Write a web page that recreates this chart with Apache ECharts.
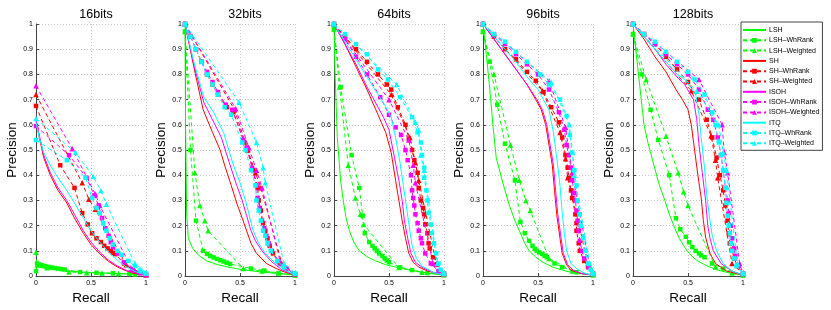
<!DOCTYPE html>
<html><head><meta charset="utf-8">
<script src="https://cdn.jsdelivr.net/npm/echarts@6/dist/echarts.min.js"></script>
<style>html,body{margin:0;padding:0;background:#fff}#c{width:831px;height:310px}</style>
</head><body><div id="c"></div>
<script>
// ---- data: [recall, precision] ----
const b16_LSH = [[0,0.04],[0.02,0.036],[0.1,0.03],[0.2,0.025],[0.3,0.02],[0.4,0.017],[0.5,0.014],[0.6,0.012],[0.7,0.011],[0.8,0.009],[0.9,0.008],[1,0.006]];
const b16_LSH_R = [[0,0.02],[0.01,0.05],[0.03,0.046],[0.05,0.043],[0.08,0.04],[0.11,0.037],[0.14,0.034],[0.17,0.032],[0.2,0.03],[0.23,0.028],[0.26,0.026],[0.4,0.016],[0.55,0.013],[0.7,0.011],[0.85,0.009],[1,0.006]];
const b16_LSH_W = [[0,0.095],[0.01,0.045],[0.1,0.033],[0.3,0.016],[0.46,0.013],[0.6,0.012],[0.75,0.01],[0.9,0.008],[1,0.006]];
const b16_SH = [[0,0.62],[0.03,0.55],[0.07,0.47],[0.13,0.4],[0.2,0.34],[0.28,0.29],[0.35,0.23],[0.43,0.17],[0.5,0.125],[0.58,0.088],[0.66,0.058],[0.74,0.036],[0.82,0.021],[0.9,0.011],[1,0.004]];
const b16_SH_R = [[0,0.675],[0.22,0.44],[0.35,0.35],[0.42,0.25],[0.47,0.205],[0.51,0.17],[0.55,0.15],[0.59,0.135],[0.62,0.12],[0.65,0.11],[0.68,0.1],[0.7,0.092],[0.72,0.087],[0.8,0.05],[0.88,0.025],[0.95,0.012],[1,0.004]];
const b16_SH_W = [[0,0.72],[0.42,0.37],[0.48,0.305],[0.54,0.265],[0.82,0.045],[0.9,0.02],[1,0.005]];
const b16_ISOH = [[0,0.62],[0.03,0.56],[0.07,0.48],[0.13,0.41],[0.2,0.35],[0.28,0.3],[0.35,0.245],[0.43,0.18],[0.5,0.135],[0.58,0.095],[0.66,0.063],[0.74,0.04],[0.82,0.023],[0.9,0.012],[1,0.004]];
const b16_ISOH_R = [[0,0.595],[0.3,0.48],[0.46,0.39],[0.53,0.32],[0.57,0.28],[0.6,0.23],[0.63,0.19],[0.66,0.16],[0.68,0.135],[0.7,0.115],[0.74,0.09],[0.8,0.055],[0.88,0.027],[0.95,0.012],[1,0.005]];
const b16_ISOH_W = [[0,0.755],[0.33,0.505],[0.54,0.325],[0.58,0.28],[0.87,0.03],[1,0.006]];
const b16_ITQ = [[0,0.61],[0.03,0.55],[0.07,0.49],[0.13,0.44],[0.2,0.39],[0.28,0.34],[0.35,0.29],[0.43,0.23],[0.5,0.18],[0.58,0.135],[0.66,0.095],[0.74,0.062],[0.82,0.037],[0.9,0.018],[1,0.005]];
const b16_ITQ_R = [[0,0.54],[0.28,0.46],[0.45,0.39],[0.51,0.31],[0.55,0.27],[0.58,0.25],[0.61,0.21],[0.64,0.18],[0.67,0.15],[0.7,0.125],[0.74,0.1],[0.78,0.085],[0.84,0.06],[0.9,0.04],[0.95,0.022],[1,0.01]];
const b16_ITQ_W = [[0,0.625],[0.36,0.49],[0.52,0.395],[0.59,0.34],[0.64,0.285],[0.9,0.05],[1,0.015]];

const b32_LSH = [[0,1],[0.005,0.6],[0.015,0.25],[0.03,0.15],[0.07,0.11],[0.13,0.08],[0.2,0.06],[0.3,0.045],[0.4,0.035],[0.5,0.027],[0.6,0.021],[0.7,0.016],[0.8,0.012],[0.9,0.008],[1,0.004]];
const b32_LSH_R = [[0,0.97],[0.05,0.5],[0.1,0.22],[0.165,0.1],[0.2,0.088],[0.23,0.08],[0.26,0.074],[0.29,0.068],[0.32,0.063],[0.35,0.058],[0.38,0.053],[0.41,0.048],[0.6,0.03],[0.72,0.022],[0.85,0.012],[1,0.004]];
const b32_LSH_W = [[0,0.97],[0.09,0.41],[0.135,0.28],[0.18,0.22],[0.21,0.18],[0.53,0.03],[0.7,0.02],[0.85,0.012],[1,0.004]];
const b32_SH = [[0,1],[0.08,0.83],[0.165,0.66],[0.25,0.57],[0.32,0.5],[0.36,0.44],[0.42,0.36],[0.47,0.29],[0.52,0.23],[0.56,0.18],[0.6,0.13],[0.65,0.09],[0.74,0.05],[0.83,0.03],[0.9,0.017],[1,0.004]];
const b32_SH_R = [[0,1],[0.05,0.95],[0.1,0.9],[0.15,0.85],[0.2,0.8],[0.25,0.76],[0.3,0.72],[0.38,0.67],[0.44,0.65],[0.54,0.53],[0.57,0.5],[0.62,0.42],[0.66,0.35],[0.67,0.3],[0.69,0.26],[0.71,0.21],[0.73,0.18],[0.75,0.15],[0.77,0.12],[0.8,0.09],[0.86,0.05],[0.92,0.03],[1,0.008]];
const b32_SH_W = [[0,1],[0.45,0.66],[0.57,0.5],[0.64,0.41],[0.69,0.35],[0.88,0.05],[1,0.01]];
const b32_ISOH = [[0,1],[0.08,0.84],[0.17,0.69],[0.25,0.62],[0.33,0.55],[0.41,0.44],[0.47,0.36],[0.52,0.3],[0.56,0.24],[0.6,0.18],[0.64,0.14],[0.7,0.1],[0.78,0.06],[0.88,0.025],[1,0.005]];
const b32_ISOH_R = [[0,1],[0.05,0.95],[0.1,0.9],[0.15,0.85],[0.2,0.81],[0.25,0.77],[0.3,0.73],[0.37,0.68],[0.43,0.66],[0.53,0.54],[0.56,0.51],[0.61,0.43],[0.65,0.36],[0.66,0.31],[0.68,0.27],[0.7,0.22],[0.72,0.19],[0.74,0.16],[0.76,0.13],[0.79,0.1],[0.85,0.06],[0.92,0.03],[1,0.008]];
const b32_ISOH_W = [[0,1],[0.46,0.665],[0.58,0.51],[0.65,0.42],[0.7,0.35],[0.87,0.05],[1,0.01]];
const b32_ITQ = [[0,1],[0.08,0.85],[0.17,0.71],[0.26,0.65],[0.35,0.57],[0.44,0.44],[0.5,0.37],[0.55,0.3],[0.59,0.23],[0.62,0.18],[0.67,0.13],[0.73,0.09],[0.8,0.06],[0.9,0.025],[1,0.005]];
const b32_ITQ_R = [[0,1],[0.05,0.95],[0.1,0.9],[0.15,0.85],[0.2,0.8],[0.25,0.76],[0.3,0.72],[0.36,0.67],[0.42,0.64],[0.52,0.53],[0.55,0.5],[0.6,0.42],[0.64,0.36],[0.65,0.3],[0.67,0.26],[0.69,0.22],[0.71,0.18],[0.73,0.16],[0.75,0.13],[0.78,0.1],[0.84,0.06],[0.9,0.035],[1,0.01]];
const b32_ITQ_W = [[0,1],[0.49,0.69],[0.65,0.53],[0.71,0.43],[0.73,0.37],[0.9,0.05],[1,0.012]];

const b64_LSH = [[0,1],[0.01,0.8],[0.03,0.55],[0.06,0.38],[0.084,0.3],[0.11,0.23],[0.14,0.18],[0.18,0.135],[0.23,0.1],[0.3,0.077],[0.38,0.06],[0.47,0.045],[0.56,0.036],[0.66,0.026],[0.77,0.017],[0.88,0.01],[1,0.004]];
const b64_LSH_R = [[0,0.98],[0.06,0.75],[0.16,0.48],[0.23,0.35],[0.26,0.24],[0.28,0.17],[0.32,0.135],[0.35,0.12],[0.37,0.11],[0.39,0.1],[0.41,0.09],[0.44,0.08],[0.46,0.07],[0.48,0.062],[0.5,0.055],[0.6,0.035],[0.71,0.024],[0.85,0.012],[1,0.005]];
const b64_LSH_W = [[0,0.98],[0.05,0.75],[0.13,0.44],[0.195,0.31],[0.24,0.245],[0.27,0.205],[0.59,0.034],[0.8,0.015],[1,0.005]];
const b64_SH = [[0,1],[0.1,0.92],[0.2,0.83],[0.3,0.74],[0.38,0.66],[0.43,0.61],[0.47,0.57],[0.52,0.49],[0.56,0.38],[0.59,0.3],[0.62,0.22],[0.65,0.15],[0.68,0.09],[0.72,0.055],[0.77,0.036],[0.85,0.02],[1,0.004]];
const b64_SH_R = [[0,1],[0.1,0.95],[0.2,0.9],[0.3,0.85],[0.4,0.8],[0.48,0.76],[0.52,0.74],[0.58,0.67],[0.65,0.6],[0.68,0.545],[0.71,0.5],[0.73,0.46],[0.76,0.41],[0.77,0.35],[0.79,0.3],[0.81,0.27],[0.82,0.245],[0.83,0.205],[0.85,0.17],[0.86,0.13],[0.87,0.11],[0.9,0.075],[0.93,0.045],[1,0.01]];
const b64_SH_W = [[0,1],[0.52,0.72],[0.69,0.55],[0.74,0.45],[0.77,0.38],[0.93,0.05],[1,0.01]];
const b64_ISOH = [[0,1],[0.1,0.92],[0.2,0.84],[0.3,0.75],[0.4,0.67],[0.45,0.63],[0.5,0.58],[0.55,0.47],[0.59,0.38],[0.62,0.3],[0.64,0.22],[0.67,0.15],[0.7,0.09],[0.74,0.055],[0.8,0.035],[0.88,0.018],[1,0.004]];
const b64_ISOH_R = [[0,1],[0.1,0.94],[0.2,0.87],[0.3,0.8],[0.42,0.71],[0.5,0.64],[0.56,0.59],[0.61,0.56],[0.65,0.5],[0.67,0.46],[0.7,0.4],[0.71,0.34],[0.72,0.31],[0.73,0.28],[0.74,0.245],[0.76,0.21],[0.77,0.18],[0.79,0.15],[0.8,0.13],[0.83,0.09],[0.88,0.05],[0.95,0.02],[1,0.008]];
const b64_ISOH_W = [[0,1],[0.5,0.7],[0.68,0.54],[0.72,0.44],[0.74,0.37],[0.9,0.05],[1,0.01]];
const b64_ITQ = [[0,1],[0.1,0.93],[0.2,0.86],[0.3,0.79],[0.4,0.72],[0.46,0.68],[0.52,0.63],[0.56,0.55],[0.6,0.45],[0.63,0.36],[0.66,0.27],[0.69,0.18],[0.71,0.12],[0.75,0.07],[0.8,0.04],[0.9,0.015],[1,0.004]];
const b64_ITQ_R = [[0,1],[0.1,0.96],[0.2,0.92],[0.3,0.88],[0.4,0.82],[0.49,0.78],[0.6,0.71],[0.71,0.63],[0.76,0.57],[0.79,0.53],[0.8,0.48],[0.82,0.43],[0.82,0.39],[0.84,0.34],[0.85,0.3],[0.86,0.25],[0.88,0.205],[0.89,0.17],[0.91,0.13],[0.93,0.09],[0.95,0.05],[0.97,0.025],[1,0.01]];
const b64_ITQ_W = [[0,1],[0.57,0.76],[0.74,0.61],[0.77,0.58],[0.79,0.48],[0.82,0.42],[0.94,0.05],[1,0.01]];

const b96_LSH = [[0,1],[0.03,0.88],[0.06,0.75],[0.09,0.6],[0.12,0.47],[0.18,0.37],[0.24,0.28],[0.29,0.22],[0.33,0.18],[0.38,0.13],[0.42,0.1],[0.48,0.075],[0.54,0.056],[0.63,0.036],[0.75,0.02],[0.87,0.01],[1,0.004]];
const b96_LSH_R = [[0,0.97],[0.06,0.85],[0.13,0.68],[0.2,0.525],[0.29,0.38],[0.34,0.215],[0.38,0.17],[0.42,0.14],[0.45,0.12],[0.47,0.108],[0.49,0.1],[0.51,0.094],[0.54,0.088],[0.56,0.08],[0.58,0.075],[0.65,0.05],[0.72,0.036],[0.85,0.015],[1,0.004]];
const b96_LSH_W = [[0,0.97],[0.1,0.8],[0.25,0.52],[0.33,0.38],[0.39,0.3],[0.43,0.26],[0.6,0.07],[0.81,0.02],[1,0.005]];
const b96_SH = [[0,1],[0.1,0.94],[0.2,0.88],[0.3,0.82],[0.4,0.76],[0.48,0.7],[0.53,0.66],[0.57,0.6],[0.6,0.52],[0.63,0.44],[0.65,0.34],[0.67,0.245],[0.7,0.15],[0.72,0.09],[0.76,0.045],[0.8,0.023],[0.9,0.01],[1,0.004]];
const b96_SH_R = [[0,1],[0.1,0.95],[0.2,0.9],[0.3,0.86],[0.4,0.81],[0.48,0.775],[0.55,0.73],[0.62,0.67],[0.69,0.61],[0.72,0.55],[0.75,0.48],[0.77,0.43],[0.78,0.39],[0.8,0.34],[0.81,0.31],[0.84,0.245],[0.85,0.21],[0.85,0.18],[0.87,0.13],[0.88,0.1],[0.92,0.06],[0.955,0.036],[1,0.01]];
const b96_SH_W = [[0,1],[0.54,0.735],[0.7,0.57],[0.75,0.465],[0.77,0.39],[0.955,0.05],[1,0.01]];
const b96_ISOH = [[0,1],[0.1,0.94],[0.2,0.88],[0.3,0.82],[0.4,0.76],[0.49,0.7],[0.54,0.66],[0.58,0.6],[0.61,0.52],[0.64,0.44],[0.66,0.34],[0.68,0.245],[0.71,0.15],[0.73,0.09],[0.77,0.045],[0.82,0.023],[0.9,0.01],[1,0.004]];
const b96_ISOH_R = [[0,1],[0.1,0.96],[0.2,0.92],[0.3,0.88],[0.4,0.84],[0.5,0.8],[0.6,0.74],[0.69,0.65],[0.74,0.58],[0.76,0.52],[0.78,0.48],[0.8,0.43],[0.81,0.38],[0.83,0.33],[0.84,0.3],[0.85,0.26],[0.86,0.22],[0.87,0.18],[0.88,0.14],[0.9,0.1],[0.92,0.07],[0.96,0.035],[1,0.01]];
const b96_ISOH_W = [[0,1],[0.6,0.775],[0.75,0.59],[0.81,0.41],[0.97,0.04],[1,0.01]];
const b96_ITQ = [[0,1],[0.1,0.95],[0.2,0.9],[0.3,0.85],[0.4,0.79],[0.5,0.74],[0.6,0.66],[0.64,0.57],[0.67,0.47],[0.7,0.36],[0.72,0.25],[0.74,0.17],[0.76,0.1],[0.8,0.05],[0.85,0.03],[0.92,0.012],[1,0.004]];
const b96_ITQ_R = [[0,1],[0.1,0.96],[0.2,0.93],[0.3,0.89],[0.4,0.85],[0.52,0.8],[0.6,0.76],[0.7,0.7],[0.76,0.635],[0.79,0.56],[0.81,0.49],[0.83,0.42],[0.85,0.36],[0.86,0.3],[0.88,0.245],[0.89,0.2],[0.91,0.15],[0.93,0.1],[0.955,0.05],[0.98,0.025],[1,0.01]];
const b96_ITQ_W = [[0,1],[0.62,0.77],[0.785,0.6],[0.815,0.49],[0.83,0.4],[0.97,0.05],[1,0.01]];

const b128_LSH = [[0,1],[0.03,0.88],[0.07,0.72],[0.1,0.6],[0.135,0.53],[0.19,0.44],[0.24,0.36],[0.29,0.3],[0.33,0.245],[0.38,0.19],[0.42,0.15],[0.47,0.115],[0.51,0.09],[0.58,0.062],[0.66,0.043],[0.76,0.025],[0.88,0.012],[1,0.004]];
const b128_LSH_R = [[0,0.96],[0.08,0.8],[0.16,0.66],[0.23,0.54],[0.33,0.4],[0.39,0.23],[0.43,0.186],[0.48,0.156],[0.51,0.134],[0.54,0.115],[0.57,0.1],[0.6,0.09],[0.62,0.082],[0.65,0.075],[0.72,0.05],[0.82,0.03],[1,0.004]];
const b128_LSH_W = [[0,0.96],[0.12,0.78],[0.3,0.555],[0.41,0.41],[0.46,0.335],[0.5,0.28],[0.75,0.036],[0.9,0.012],[1,0.004]];
const b128_SH = [[0,1],[0.1,0.94],[0.2,0.87],[0.3,0.81],[0.39,0.74],[0.45,0.7],[0.5,0.66],[0.53,0.6],[0.56,0.5],[0.59,0.4],[0.62,0.31],[0.64,0.22],[0.66,0.154],[0.7,0.09],[0.75,0.05],[0.85,0.02],[1,0.004]];
const b128_SH_R = [[0,1],[0.1,0.96],[0.2,0.92],[0.3,0.87],[0.4,0.82],[0.5,0.77],[0.6,0.7],[0.67,0.62],[0.72,0.55],[0.76,0.47],[0.79,0.4],[0.82,0.34],[0.84,0.28],[0.86,0.22],[0.87,0.17],[0.88,0.13],[0.9,0.1],[0.92,0.07],[0.95,0.04],[1,0.01]];
const b128_SH_W = [[0,1],[0.53,0.735],[0.71,0.557],[0.75,0.46],[0.77,0.39],[0.9,0.05],[1,0.01]];
const b128_ISOH = [[0,1],[0.1,0.95],[0.2,0.9],[0.3,0.84],[0.4,0.79],[0.47,0.76],[0.55,0.7],[0.58,0.62],[0.6,0.52],[0.63,0.41],[0.66,0.3],[0.68,0.2],[0.7,0.15],[0.73,0.1],[0.8,0.05],[0.9,0.02],[1,0.004]];
const b128_ISOH_R = [[0,1],[0.1,0.96],[0.2,0.92],[0.3,0.88],[0.4,0.84],[0.5,0.8],[0.6,0.74],[0.68,0.66],[0.73,0.62],[0.77,0.55],[0.8,0.48],[0.82,0.42],[0.84,0.35],[0.86,0.3],[0.87,0.25],[0.89,0.2],[0.9,0.15],[0.92,0.11],[0.93,0.08],[0.96,0.04],[1,0.01]];
const b128_ISOH_W = [[0,1],[0.6,0.78],[0.81,0.6],[0.83,0.49],[0.86,0.41],[0.97,0.05],[1,0.01]];
const b128_ITQ = [[0,1],[0.1,0.95],[0.2,0.9],[0.3,0.85],[0.4,0.8],[0.47,0.78],[0.57,0.72],[0.6,0.64],[0.62,0.55],[0.65,0.43],[0.67,0.32],[0.7,0.22],[0.72,0.16],[0.76,0.1],[0.82,0.05],[0.9,0.02],[1,0.004]];
const b128_ITQ_R = [[0,1],[0.1,0.96],[0.2,0.93],[0.3,0.89],[0.4,0.85],[0.5,0.81],[0.56,0.78],[0.65,0.72],[0.72,0.65],[0.75,0.6],[0.78,0.53],[0.8,0.48],[0.82,0.42],[0.84,0.35],[0.85,0.29],[0.86,0.24],[0.87,0.2],[0.88,0.17],[0.89,0.13],[0.9,0.1],[0.92,0.07],[0.94,0.04],[1,0.01]];
const b128_ITQ_W = [[0,1],[0.58,0.733],[0.78,0.6],[0.82,0.49],[0.85,0.42],[0.95,0.05],[1,0.01]];

const panelTitles = ['16bits','32bits','64bits','96bits','128bits'];
const methods = ['LSH','SH','ISOH','ITQ'];
const variants = ['', '–WhRank', '–Weighted'];
const xTicks = [0, 0.5, 1];
const yTicks = [0,0.1,0.2,0.3,0.4,0.5,0.6,0.7,0.8,0.9,1];
const panelData = [
  [b16_LSH,b16_LSH_R,b16_LSH_W,b16_SH,b16_SH_R,b16_SH_W,b16_ISOH,b16_ISOH_R,b16_ISOH_W,b16_ITQ,b16_ITQ_R,b16_ITQ_W],
  [b32_LSH,b32_LSH_R,b32_LSH_W,b32_SH,b32_SH_R,b32_SH_W,b32_ISOH,b32_ISOH_R,b32_ISOH_W,b32_ITQ,b32_ITQ_R,b32_ITQ_W],
  [b64_LSH,b64_LSH_R,b64_LSH_W,b64_SH,b64_SH_R,b64_SH_W,b64_ISOH,b64_ISOH_R,b64_ISOH_W,b64_ITQ,b64_ITQ_R,b64_ITQ_W],
  [b96_LSH,b96_LSH_R,b96_LSH_W,b96_SH,b96_SH_R,b96_SH_W,b96_ISOH,b96_ISOH_R,b96_ISOH_W,b96_ITQ,b96_ITQ_R,b96_ITQ_W],
  [b128_LSH,b128_LSH_R,b128_LSH_W,b128_SH,b128_SH_R,b128_SH_W,b128_ISOH,b128_ISOH_R,b128_ISOH_W,b128_ITQ,b128_ITQ_R,b128_ITQ_W]
];

// ---- styling / layout ----
const colors = {LSH:'#00ff00', SH:'#ff0000', ISOH:'#ff00ff', ITQ:'#00ffff'};
const symbols = ['none','rect','triangle'];
const symSizes = [0,4.5,5.5];
const FONT = 'Liberation Sans, Arial, sans-serif';
const lefts = [36,185,334,483,633];
const W = 110, TOP = 24, H = 255.5;

const grids = [], xAxes = [], yAxes = [], titles = [], series = [];
lefts.forEach((l, i) => {
  grids.push({left:l, top:TOP, width:W, height:H});
  titles.push({text: panelTitles[i], left: l + W/2, top: 3, textAlign:'center',
    textStyle:{fontFamily:FONT, fontSize:12.5, fontWeight:'normal', color:'#000'}});
  xAxes.push({gridIndex:i, type:'value', min:0, max:1, interval:0.5,
    name:'Recall', nameLocation:'middle', nameGap:10,
    nameTextStyle:{fontFamily:FONT, fontSize:13.5, color:'#000'},
    axisLine:{lineStyle:{color:'#444', width:1}},
    axisTick:{inside:true, length:3, lineStyle:{color:'#444'}},
    axisLabel:{fontFamily:FONT, fontSize:7, color:'#000', margin:3,
      formatter:v => xTicks.includes(v) ? String(v) : ''},
    splitLine:{show:true, lineStyle:{type:[1,2], color:'#c8c8c8', width:1}}
  });
  yAxes.push({gridIndex:i, type:'value', min:0, max:1, interval:0.1,
    name:'Precision', nameLocation:'middle', nameGap:17, nameRotate:90,
    nameTextStyle:{fontFamily:FONT, fontSize:13.5, color:'#000'},
    axisLine:{show:true, lineStyle:{color:'#444', width:1}},
    axisTick:{show:true, inside:true, length:3, lineStyle:{color:'#444'}},
    axisLabel:{fontFamily:FONT, fontSize:7, color:'#000', margin:3,
      formatter:v => { const r = Math.round(v*10)/10; return yTicks.includes(r) ? String(r) : ''; }},
    splitLine:{show:true, lineStyle:{type:[1,2], color:'#c8c8c8', width:1}}
  });
  panelData[i].forEach((data, k) => {
    const m = methods[Math.floor(k/3)], v = k % 3;
    series.push({
      name: m + variants[v], type:'line', xAxisIndex:i, yAxisIndex:i,
      data: data, smooth:false, silent:true, animation:false,
      symbol: symbols[v], symbolSize: symSizes[v], showSymbol: v !== 0,
      itemStyle:{color: colors[m], borderWidth:0},
      lineStyle:{color: colors[m], width:1, type: v === 0 ? 'solid' : [4,3]},
      z: 2 + k
    });
  });
});

const legendItems = [];
methods.forEach(m => variants.forEach((v, j) => {
  const item = {name: m + v};
  if (j === 0) item.itemStyle = {opacity: 0};
  legendItems.push(item);
}));

const chart = echarts.init(document.getElementById('c'), null, {renderer:'canvas'});
chart.setOption({
  animation:false,
  backgroundColor:'#fff',
  title: titles,
  grid: grids, xAxis: xAxes, yAxis: yAxes, series: series,
  legend:{data: legendItems, orient:'vertical', left:741, top:22,
    itemWidth:23, itemHeight:6, itemGap:2.3, padding:[4,3,3,1],
    borderColor:'#444', borderWidth:1, backgroundColor:'#fff',
    textStyle:{fontFamily:FONT, fontSize:7, lineHeight:8, color:'#000', padding:[0,0,0,-2]},
    selectedMode:false}
});
</script></body></html>
